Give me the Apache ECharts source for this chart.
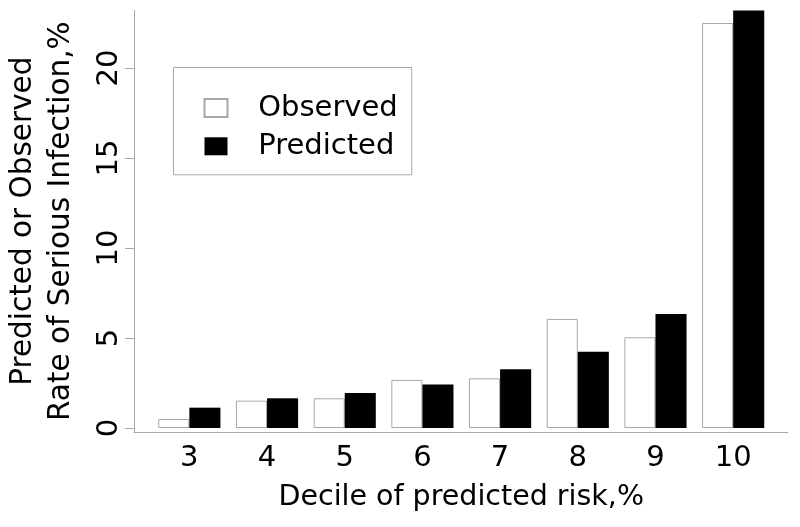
<!DOCTYPE html>
<html>
<head>
<meta charset="utf-8">
<script src="https://cdn.jsdelivr.net/npm/echarts@6/dist/echarts.min.js"></script>
<style>
html,body{margin:0;padding:0;background:#fff;}
#chart{width:800px;height:527px;}
</style>
</head>
<body>
<div id="chart"></div>
<script>
var categories = ['3', '4', '5', '6', '7', '8', '9', '10'];
var observed = [0.5, 1.52, 1.65, 2.67, 2.76, 6.06, 5.04, 22.5];
var predicted = [1.13, 1.65, 1.94, 2.41, 3.26, 4.24, 6.33, 23.2];
var yMin = 0, yMax = 23.2, yInterval = 5;
var xTitle = 'Decile of predicted risk,%';
var yTitle = 'Predicted or Observed\nRate of Serious Infection,%';
var seriesNames = ['Observed', 'Predicted'];

var FONT = 'DejaVu Sans';
var AXIS_GRAY = '#a8a8a8';

var chart = echarts.init(document.getElementById('chart'), null, {renderer: 'canvas'});
var option = {
  backgroundColor: '#ffffff',
  animation: false,
  textStyle: {fontFamily: FONT, color: '#000'},
  grid: [
    {left: 150.5, right: 28, top: 10.4, bottom: 99, outerBoundsMode: 'none', containLabel: false},
    {left: 134, right: 12, top: 10.4, bottom: 95, outerBoundsMode: 'none', containLabel: false}
  ],
  legend: {
    data: seriesNames,
    orient: 'vertical',
    left: 173.5,
    top: 67.5,
    padding: [26, 14, 14, 30],
    itemWidth: 23,
    itemHeight: 18,
    itemGap: 9.3,
    borderColor: AXIS_GRAY,
    borderWidth: 1,
    borderRadius: 0,
    backgroundColor: '#fff',
    icon: 'rect',
    textStyle: {fontFamily: FONT, fontSize: 29, color: '#000', lineHeight: 29, padding: [0, 0, 0, 25.7]}
  },
  xAxis: [
    {
      type: 'category',
      gridIndex: 0,
      data: categories,
      axisLine: {show: false},
      axisTick: {show: false},
      axisLabel: {fontFamily: FONT, fontSize: 29, color: '#000', margin: 16},
      name: xTitle,
      nameLocation: 'middle',
      nameGap: 55,
      nameMoveOverlap: false,
      nameTextStyle: {fontFamily: FONT, fontSize: 28.5, color: '#000'}
    },
    {
      type: 'value',
      gridIndex: 1,
      min: 0, max: 1,
      axisLine: {show: true, lineStyle: {color: AXIS_GRAY, width: 1}},
      axisTick: {show: false},
      axisLabel: {show: false},
      splitLine: {show: false}
    }
  ],
  yAxis: [
    {
      type: 'value',
      gridIndex: 0,
      min: yMin, max: yMax, interval: yInterval,
      offset: 16.5,
      axisLine: {show: false},
      axisTick: {show: true, inside: false, length: 9, lineStyle: {color: AXIS_GRAY, width: 1}},
      axisLabel: {fontFamily: FONT, fontSize: 29, color: '#000', rotate: 90, margin: 10,
        showMaxLabel: false},
      splitLine: {show: false}
    },
    {
      type: 'value',
      gridIndex: 1,
      min: 0, max: 1,
      axisLine: {show: true, lineStyle: {color: AXIS_GRAY, width: 1}},
      axisTick: {show: false},
      axisLabel: {show: false},
      splitLine: {show: false},
      name: yTitle,
      nameLocation: 'middle',
      nameRotate: 90,
      nameGap: 54,
      nameMoveOverlap: false,
      nameTextStyle: {fontFamily: FONT, fontSize: 29.5, color: '#000', lineHeight: 38}
    }
  ],
  series: [
    {
      name: seriesNames[0],
      type: 'bar',
      xAxisIndex: 0, yAxisIndex: 0,
      data: observed,
      barGap: '0%',
      barCategoryGap: '20%',
      itemStyle: {color: '#ffffff', borderColor: AXIS_GRAY, borderWidth: 1}
    },
    {
      name: seriesNames[1],
      type: 'bar',
      xAxisIndex: 0, yAxisIndex: 0,
      data: predicted,
      barGap: '0%',
      barCategoryGap: '20%',
      itemStyle: {color: '#000000', borderColor: '#000000', borderWidth: 0}
    }
  ]
};
chart.setOption(option);
</script>
</body>
</html>
